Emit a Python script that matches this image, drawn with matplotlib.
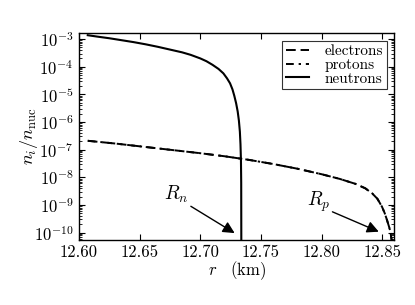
import matplotlib
matplotlib.use("Agg")
import matplotlib.pyplot as plt
from matplotlib.ticker import LogLocator, NullFormatter
import numpy as np

plt.rcParams.update({
    "font.family": "serif",
    "font.serif": ["cmr10", "DejaVu Serif"],
    "mathtext.fontset": "cm",
    "axes.formatter.use_mathtext": True,
    "axes.unicode_minus": False,
    "xtick.direction": "in",
    "ytick.direction": "in",
    "xtick.top": True,
    "ytick.right": True,
})

# neutrons: (r [km], log10 n_i/n_nuc)
r_neutrons = [12.6072, 12.615, 12.625, 12.635, 12.645, 12.655, 12.665, 12.675, 12.685,
              12.692, 12.700, 12.705, 12.710, 12.715, 12.719, 12.722, 12.7245, 12.7265,
              12.728, 12.7295, 12.7308, 12.7318, 12.7326, 12.7331, 12.7335, 12.7337, 12.7338]
log_neutrons = [-2.86, -2.91, -2.97, -3.04, -3.11, -3.19, -3.28, -3.38, -3.48,
                -3.57, -3.70, -3.80, -3.93, -4.08, -4.24, -4.42, -4.60, -4.82,
                -5.05, -5.32, -5.62, -5.95, -6.35, -6.8, -7.4, -8.2, -10.6]

# electrons / protons
r_electrons = [12.6072, 12.63, 12.65, 12.67, 12.70, 12.72, 12.74, 12.76, 12.78, 12.80,
               12.815, 12.828, 12.836, 12.8416, 12.846, 12.8498, 12.852, 12.8539,
               12.8555, 12.8567, 12.8578, 12.8582]
log_electrons = [-6.68, -6.78, -6.88, -6.98, -7.13, -7.24, -7.37, -7.52, -7.69, -7.89,
                 -8.06, -8.24, -8.40, -8.58, -8.78, -9.07, -9.30, -9.55,
                 -9.78, -9.97, -10.3, -10.6]
r_protons = r_electrons
log_protons = log_electrons

labels = ["electrons", "protons", "neutrons"]

fig = plt.figure(figsize=(4.15, 3.05), dpi=100)
ax = fig.add_axes([0.1904, 0.2131, 0.760, 0.6787])

ax.plot(r_electrons, 10 ** np.array(log_electrons), "k--", lw=1.4, dashes=(5, 2.5), label=labels[0])
ax.plot(r_protons, 10 ** np.array(log_protons), "k-.", lw=1.4, dashes=(4, 2.5, 1.2, 2.5), label=labels[1])
ax.plot(r_neutrons, 10 ** np.array(log_neutrons), "k-", lw=1.5, label=labels[2])

ax.set_yscale("log")
ax.set_xlim(12.60, 12.86)
ax.set_ylim(10 ** -10.27, 10 ** -2.78)
ax.set_xticks([12.60, 12.65, 12.70, 12.75, 12.80, 12.85])
ax.set_xticklabels(["12.60", "12.65", "12.70", "12.75", "12.80", "12.85"])
ax.set_yticks([10.0 ** k for k in range(-10, -2)])
ax.yaxis.set_minor_locator(LogLocator(base=10, subs=np.arange(2, 10), numticks=100))
ax.yaxis.set_minor_formatter(NullFormatter())
ax.tick_params(which="major", length=4, width=0.8, labelsize=12)
ax.tick_params(which="minor", length=2, width=0.6)
ax.tick_params(axis="y", pad=4)

ax.set_xlabel(r"$r\ \ \ (\mathrm{km})$", fontsize=12, labelpad=-1)
ax.set_ylabel(r"$n_i/n_{\rm nuc}$", fontsize=13)
ax.yaxis.set_label_coords(-0.125, 0.5)

for s in ax.spines.values():
    s.set_linewidth(1.0)

leg = ax.legend(loc="upper right", fontsize=11, frameon=True, fancybox=False,
                handlelength=1.5, handletextpad=1.0, borderpad=0.25,
                labelspacing=0.0, borderaxespad=0.5)
leg.get_frame().set_edgecolor("black")
leg.get_frame().set_linewidth(0.8)

arrow_kw = dict(arrowstyle="-|>,head_length=0.7,head_width=0.35", color="black", lw=1.0,
                shrinkA=0, shrinkB=0)
ax.annotate("", xy=(12.7283, 10 ** -10.02), xytext=(12.6922, 10 ** -9.05), arrowprops=arrow_kw)
ax.annotate("", xy=(12.8471, 10 ** -9.97), xytext=(12.8089, 10 ** -9.25), arrowprops=arrow_kw)
ax.text(12.6805, 10 ** -8.62, r"$R_n$", fontsize=14, ha="center", va="center")
ax.text(12.7974, 10 ** -8.88, r"$R_p$", fontsize=14, ha="center", va="center")

fig.savefig("out.png", dpi=100)
